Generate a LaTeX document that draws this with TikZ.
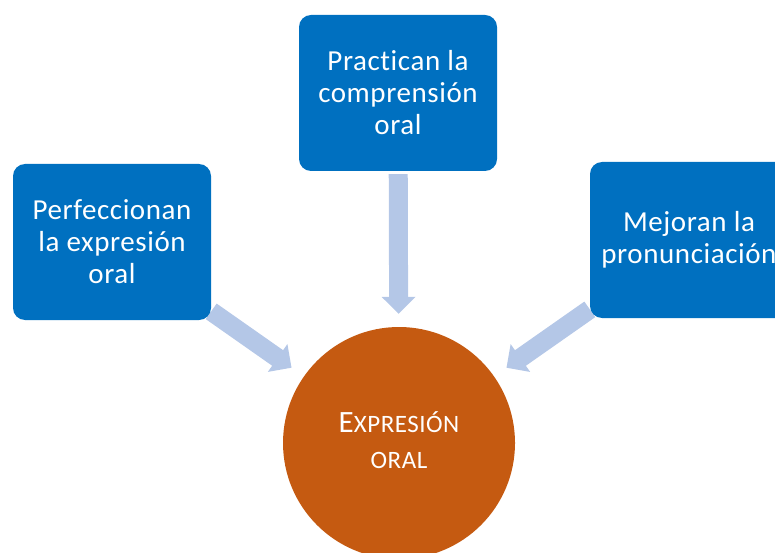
\documentclass[tikz,border=0pt]{standalone}
\usepackage{fontspec}
\setmainfont{Carlito}[LetterSpace=2, Ligatures=NoCommon]
\usetikzlibrary{arrows.meta}
\usetikzlibrary{backgrounds}

\definecolor{boxblue}{HTML}{0070C0}
\definecolor{arrowblue}{HTML}{B4C7E7}
\definecolor{circbrown}{HTML}{C55A11}

\begin{document}
\begin{tikzpicture}[x=1pt, y=-1pt]
    \tikzset{item/.style = {shape=rectangle, rounded corners=12pt, fill=boxblue, text=white,
        minimum width=198pt, minimum height=156pt, align=center,
        font=\fontsize{29}{32}\selectfont}}
    \tikzset{goal/.style = {shape=circle, fill=circbrown, text=white, minimum size=232pt,
        inner sep=0pt, font=\fontsize{25}{36}\selectfont}}
    \tikzset{edge/.style = {-{Triangle[length=17pt, width=33pt]}, line width=19pt, draw=arrowblue}}

    \useasboundingbox (0,0) rectangle (775,553);

    % boxes
    \node[item] (left) at (112,242) {Perfeccionan\\la expresión\\oral};
    \node[item] (top) at (398,93) {Practican la\\comprensión\\oral};
    \node[item] (right) at (689,240) {Mejoran la\\pronunciación};
    \node[goal] (expr) at (399,443) {\raisebox{-12pt}{\begin{tabular}{@{}c@{}}%
        {\fontsize{31}{36}\selectfont E}XPRESIÓN\\ ORAL\end{tabular}}};

    % arrows
    \begin{scope}[on background layer]
      \draw[edge, shorten >=15pt] (left) to (expr);
      \draw[edge, shorten <=3pt, shorten >=13pt] (top) to (expr);
      \draw[edge, shorten >=15pt] (right) to (expr);
    \end{scope}
\end{tikzpicture}
\end{document}
